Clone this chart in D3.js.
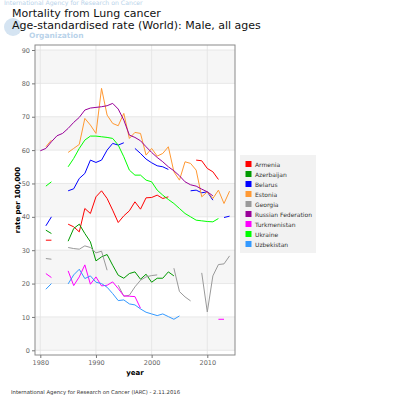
<!DOCTYPE html>
<html><head><meta charset="utf-8">
<script src="https://cdn.jsdelivr.net/npm/d3@7"></script>
<style>body{margin:0;background:#fff}svg{display:block}</style>
</head><body>
<svg id="c" width="400" height="400"></svg>
<script>
const years = [1980,1981,1982,1983,1984,1985,1986,1987,1988,1989,1990,1991,1992,1993,1994,1995,1996,1997,1998,1999,2000,2001,2002,2003,2004,2005,2006,2007,2008,2009,2010,2011,2012,2013,2014];
const countries = ["Armenia","Azerbaijan","Belarus","Estonia","Georgia","Russian Federation","Turkmenistan","Ukraine","Uzbekistan"];
const colors = ["#ff0000","#009900","#0000ff","#ff9933","#999999","#990099","#ff00ff","#00ff00","#3399ff"];
const armenia = [null,33,33,null,null,37.8,37,35.5,42.5,41,46,47.8,45.5,42,38.3,40.3,41.8,44.5,42.3,45.7,45.8,46.5,45.5,46,null,null,null,null,57,56.8,54.5,53.5,51.2,null,null];
const azerbaijan = [null,36,35,null,null,32.7,36.5,37.8,35,32.5,26.8,28,28.7,25.5,22.5,21.6,23,23.5,21.3,22.8,20.4,21.6,21.6,23.5,22.3,null,null,null,null,null,null,null,null,null,null];
const belarus = [null,37.3,40,null,null,47.8,48.4,51.5,53,57,56.3,57,60,62,61.5,62.2,null,60.5,59,57.3,56.2,55.3,55,54.2,null,null,null,47.8,48,47.2,47.5,45,null,39.8,40.2];
const estonia = [null,61,63,null,null,59.3,60.5,61.7,69.5,67.5,65,78.5,70.5,68,67.3,71,63.5,65.3,65,58.5,60.5,58.2,59,61,53.5,51,56.5,56,54,46,47.5,45.5,48,44,47.7];
const georgia = [null,27.5,27.3,null,null,30.8,30.5,30.3,31.3,30.8,29.2,29.7,24,null,19.5,16.2,16.5,19,21,22,22.4,22.6,null,null,24.6,17.6,16,14.8,null,23.2,11.5,22.3,25.7,25.9,28.3];
const russia = [59.8,60.5,62.5,64.3,65,66.5,68.3,69.8,72,72.6,72.8,73,73.3,74,72.3,69,64.5,63.8,62.8,61,59.3,57.8,56.5,55,53.8,52.3,50.5,49.6,49.2,48.3,47.5,46.3,null,null,null];
const turkmenistan = [null,23,21.8,null,null,23.8,19.4,22,25.6,19.8,22,19.3,19.5,20.5,18.5,16.3,16.2,16.1,12.6,null,null,null,null,null,null,null,null,null,null,null,null,null,9.3,9.3,null];
const ukraine = [null,49.2,50.5,null,null,55,57.5,60.5,63,64.2,64.2,64,63.8,63.5,61.5,58,54,52.5,52.5,51,50.5,48,46.5,45.2,44,42.5,41,40,39,38.8,38.6,38.5,39.5,null,null];
const uzbekistan = [null,18.3,20,null,null,19.9,22.6,24.3,21.5,22.3,20.4,20,18.9,17,14.9,15.1,13.9,13.6,12.4,11.4,10.9,10.4,10.9,10.1,9.3,10.3,null,null,null,null,null,null,null,null,null];
const seriesValues = [armenia,azerbaijan,belarus,estonia,georgia,russia,turkmenistan,ukraine,uzbekistan];
const yTicks = [0,10,20,30,40,50,60,70,80,90];
const xTicks = [1980,1990,2000,2010];

const svg = d3.select("#c");
const F = "DejaVu Sans, sans-serif";
const L = 35, R = 235, T = 45, B = 355;
const x = d3.scaleLinear().domain([1980,2010]).range([40.3,207.3]);
const y = d3.scaleLinear().domain([0,90]).range([350.3,50]);

// watermark
const wm = svg.append("g").attr("fill","#b9d3ea").attr("font-family",F);
wm.append("text").attr("x",4).attr("y",5).attr("font-size",6.2).text("International Agency for Research on Cancer");
wm.append("circle").attr("cx",13).attr("cy",27).attr("r",9).attr("fill","#d5e4f2");
wm.append("text").attr("x",29).attr("y",38).attr("font-size",7.5).attr("font-weight","bold").text("Organization");

// titles
svg.append("text").attr("x",12).attr("y",17).attr("font-family",F).attr("font-size",11).attr("fill","#111").text("Mortality from Lung cancer");
svg.append("text").attr("x",12).attr("y",28.8).attr("font-family",F).attr("font-size",11).attr("fill","#111").text("Age-standardised rate (World): Male, all ages");

// panel
svg.append("rect").attr("x",L).attr("y",T).attr("width",R-L).attr("height",B-T).attr("fill","#fff");
[0,20,40,60,80].forEach(v=>{
  svg.append("rect").attr("x",L).attr("width",R-L).attr("y",y(v+10)).attr("height",y(v)-y(v+10)).attr("fill","#f6f6f6");
});
const grid = svg.append("g").attr("stroke","#e3e3e3").attr("stroke-width",0.8);
yTicks.forEach(v=>grid.append("line").attr("x1",L).attr("x2",R).attr("y1",y(v)).attr("y2",y(v)));
xTicks.forEach(v=>grid.append("line").attr("y1",T).attr("y2",B).attr("x1",x(v)).attr("x2",x(v)));

// lines
const line = d3.line().defined(d=>d[1]!=null).x(d=>x(d[0])).y(d=>y(d[1]));
seriesValues.forEach((vals,i)=>{
  svg.append("path").datum(years.map((yr,j)=>[yr,vals[j]]))
    .attr("d",line).attr("fill","none").attr("stroke",colors[i]).attr("stroke-width",1);
});

svg.append("rect").attr("x",L).attr("y",T).attr("width",R-L).attr("height",B-T).attr("fill","none").attr("stroke","#8a8a8a").attr("stroke-width",1);

// axes
const ax = svg.append("g").attr("transform",`translate(0,${B})`).call(d3.axisBottom(x).tickValues(xTicks).tickFormat(d3.format("d")).tickSize(3).tickPadding(2));
const ay = svg.append("g").attr("transform",`translate(${L},0)`).call(d3.axisLeft(y).tickValues(yTicks).tickSize(3).tickPadding(2));
[ax,ay].forEach(a=>{
  a.select(".domain").remove();
  a.selectAll("line").attr("stroke","#777");
  a.selectAll("text").attr("font-family",F).attr("font-size",6.5).attr("fill","#666");
});
svg.append("text").attr("x",135).attr("y",375).attr("text-anchor","middle").attr("font-family",F).attr("font-size",7).attr("font-weight","bold").text("year");
svg.append("text").attr("transform","translate(20,200) rotate(-90)").attr("text-anchor","middle").attr("font-family",F).attr("font-size",7).attr("font-weight","bold").text("rate per 100,000");

// legend
const lg = svg.append("g");
lg.append("rect").attr("x",240).attr("y",155).attr("width",76).attr("height",98).attr("fill","#f2f2f2");
countries.forEach((c,i)=>{
  lg.append("rect").attr("x",245.5).attr("y",161+i*10).attr("width",6).attr("height",6).attr("fill",colors[i]);
  lg.append("text").attr("x",255).attr("y",166.5+i*10).attr("font-family",F).attr("font-size",6).attr("fill","#333").text(c);
});

svg.append("text").attr("x",11).attr("y",394).attr("font-family",F).attr("font-size",5.3).attr("fill","#333").text("International Agency for Research on Cancer (IARC) - 2.11.2016");
</script>
</body></html>
